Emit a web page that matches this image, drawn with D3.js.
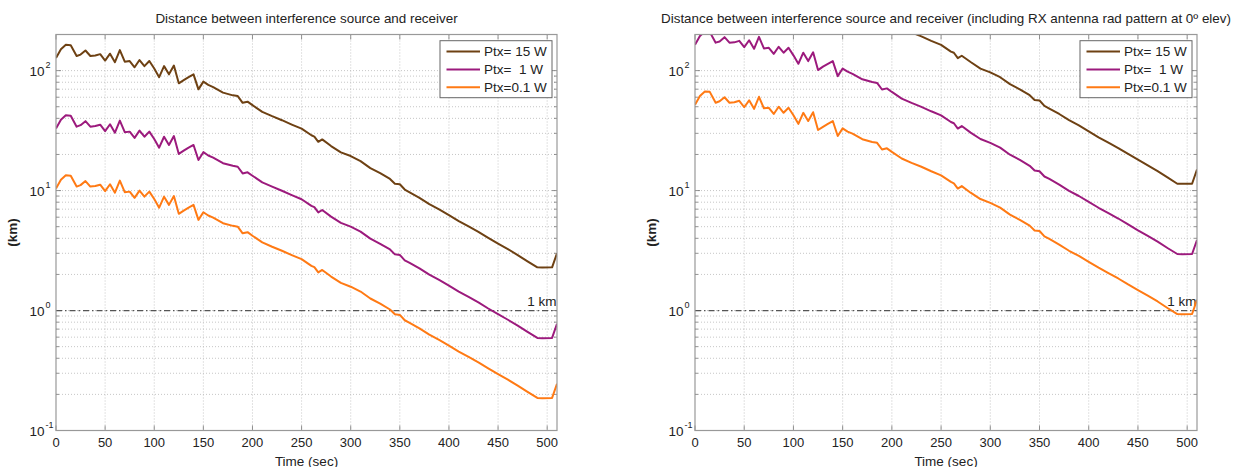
<!DOCTYPE html>
<html><head><meta charset="utf-8">
<script src="https://cdn.jsdelivr.net/npm/d3@7"></script>
<style>
body{margin:0;background:#fff;}
text{font-family:"Liberation Sans",Arial,Helvetica,sans-serif;fill:#222;}
</style>
</head><body>
<svg id="chart" width="1245" height="467"></svg>
<script>
const times = [0,5,10,15,21,25,30,35,40,45,50,55,60,65,70,75,80,85,90,95,100,105,110,115,120,125,130,135,140,145,150,155,160,170,180,185,190,195,200,210,220,230,240,250,260,263,267,271,280,290,300,310,320,330,340,345,350,355,360,370,380,390,400,410,420,430,440,450,460,470,480,490,495,505,510];

// Left panel (km)
const left15W = [127.4,150.7,164.2,162.9,132.3,136.0,147.0,132.3,133.5,137.2,121.3,138.4,117.6,148.2,118.8,120.1,106.6,122.5,109.0,120.1,104.1,88.2,109.0,93.1,110.3,78.4,83.3,88.2,93.1,69.8,80.9,76.0,72.9,65.5,62.2,61.3,53.9,55.1,51.5,45.3,41.7,38.6,35.5,32.8,28.9,28.2,25.5,26.7,23.5,20.8,19.4,17.6,15.4,14.0,12.5,11.4,11.3,10.2,9.68,8.70,7.72,6.98,6.25,5.57,5.02,4.53,4.04,3.61,3.25,2.90,2.57,2.29,2.28,2.29,3.0];
const left1W = [32.9,38.9,42.4,42.1,34.1,35.1,37.9,34.1,34.5,35.4,31.3,35.7,30.4,38.3,30.7,31.0,27.5,31.6,28.1,31.0,26.9,22.8,28.1,24.0,28.5,20.2,21.5,22.8,24.0,18.0,20.9,19.6,18.8,16.9,16.1,15.8,13.9,14.2,13.3,11.7,10.8,9.96,9.17,8.47,7.46,7.27,6.58,6.89,6.07,5.38,5.0,4.55,3.98,3.60,3.23,2.94,2.91,2.62,2.50,2.25,1.99,1.80,1.61,1.44,1.30,1.17,1.04,0.933,0.838,0.749,0.664,0.591,0.588,0.591,0.775];
const left01W = [10.4,12.3,13.4,13.3,10.8,11.1,12.0,10.8,10.9,11.2,9.9,11.3,9.6,12.1,9.7,9.8,8.7,10.0,8.9,9.8,8.5,7.2,8.9,7.6,9.0,6.4,6.8,7.2,7.6,5.7,6.6,6.2,5.95,5.35,5.08,5.0,4.4,4.5,4.2,3.7,3.4,3.15,2.9,2.68,2.36,2.30,2.08,2.18,1.92,1.70,1.58,1.44,1.26,1.14,1.02,0.93,0.92,0.83,0.79,0.71,0.63,0.57,0.51,0.455,0.41,0.37,0.33,0.295,0.265,0.237,0.21,0.187,0.186,0.187,0.245];

// Right panel (km), including RX antenna pattern
const right15W = [636,753,820,814,661,679,734,661,667,685,606,692,588,741,594,600,532,612,545,600,520,441,545,465,551,392,416,441,465,349,404,379,364,327,311,306,269,275,257,226,208,193,177,164,144,141,127,133,118,104,96.7,88.1,77.1,69.8,62.4,56.9,56.3,50.8,48.3,43.5,38.6,34.9,31.2,27.8,25.1,22.6,20.2,18.1,16.2,14.5,12.9,11.4,11.4,11.4,15.0];
const right1W = [164,194,212,210,171,175,190,171,172,177,157,179,152,191,153,155,138,158,141,155,134,114,141,120,142,101,108,114,120,90,104,98,94,84.6,80.3,79,69.6,71.1,66.4,58.5,53.8,49.8,45.8,42.4,37.3,36.4,32.9,34.5,30.4,26.9,25.0,22.8,19.9,18.0,16.1,14.7,14.5,13.1,12.5,11.2,9.96,9.01,8.06,7.19,6.48,5.85,5.22,4.66,4.19,3.75,3.32,2.96,2.94,2.96,3.87];
const right01W = [52,61.5,67,66.5,54,55.5,60,54,54.5,56,49.5,56.5,48,60.5,48.5,49,43.5,50,44.5,49,42.5,36,44.5,38,45,32,34,36,38,28.5,33,31,29.8,26.8,25.4,25,22,22.5,21,18.5,17,15.8,14.5,13.4,11.8,11.5,10.4,10.9,9.6,8.5,7.9,7.2,6.3,5.7,5.1,4.65,4.6,4.15,3.95,3.55,3.15,2.85,2.55,2.28,2.05,1.85,1.65,1.48,1.33,1.19,1.05,0.935,0.93,0.935,1.23];

const seriesNames = ["Ptx= 15 W","Ptx=  1 W","Ptx=0.1 W"];
const seriesColors = ["#6e4113","#9c1a7d","#ff7a14"];
const titles = ["Distance between interference source and receiver",
  "Distance between interference source and receiver (including RX antenna rad pattern at 0º elev)"];
const xTicks = [0,50,100,150,200,250,300,350,400,450,500];
const yDecades = [-1,0,1,2];
const thresholdKm = 1;
const thresholdLabel = "1 km";

const panels = [
  {x0:56, x1:557, title:titles[0], data:[left15W,left1W,left01W]},
  {x0:695, x1:1197, title:titles[1], data:[right15W,right1W,right01W]}
];
const yTop = 34.5, yBot = 430.5;
const svg = d3.select("#chart");

const minorVals = [];
for (let e=-1;e<=2;e++) for (let m=1;m<=9;m++){ const v=m*Math.pow(10,e); if(v>=0.1 && v<=200) minorVals.push(v); }
minorVals.push(200);

panels.forEach((p,pi)=>{
  const x = d3.scaleLinear().domain([0,510]).range([p.x0,p.x1]);
  const y = d3.scaleLog().domain([0.1,200]).range([yBot,yTop]);
  const g = svg.append("g");
  const clipId = "clip"+pi;
  svg.append("clipPath").attr("id",clipId).append("rect")
    .attr("x",p.x0).attr("y",yTop).attr("width",p.x1-p.x0).attr("height",yBot-yTop);

  // grid
  g.append("g").selectAll("line").data(minorVals.filter(v=>v>0.1 && v<200)).join("line")
    .attr("x1",p.x0).attr("x2",p.x1).attr("y1",d=>y(d)).attr("y2",d=>y(d))
    .attr("stroke","#b8b8b8").attr("stroke-width",0.8).attr("stroke-dasharray","1,2");
  g.append("g").selectAll("line").data(xTicks.filter(v=>v>0)).join("line")
    .attr("x1",d=>x(d)).attr("x2",d=>x(d)).attr("y1",yTop).attr("y2",yBot)
    .attr("stroke","#b8b8b8").attr("stroke-width",0.8).attr("stroke-dasharray","1,2");

  // ticks (inside)
  const tk = g.append("g").attr("stroke","#777").attr("stroke-width",0.8);
  xTicks.forEach(t=>{
    tk.append("line").attr("x1",x(t)).attr("x2",x(t)).attr("y1",yBot).attr("y2",yBot-5);
    tk.append("line").attr("x1",x(t)).attr("x2",x(t)).attr("y1",yTop).attr("y2",yTop+5);
  });
  minorVals.filter(v=>v<200).forEach(v=>{
    const major = yDecades.some(e=>Math.abs(Math.pow(10,e)-v)<1e-9);
    const L = major?5:3;
    tk.append("line").attr("x1",p.x0).attr("x2",p.x0+L).attr("y1",y(v)).attr("y2",y(v));
    tk.append("line").attr("x1",p.x1).attr("x2",p.x1-L).attr("y1",y(v)).attr("y2",y(v));
  });

  // threshold line
  g.append("line").attr("x1",p.x0).attr("x2",p.x1).attr("y1",y(thresholdKm)).attr("y2",y(thresholdKm))
    .attr("stroke","#555").attr("stroke-width",1.2).attr("stroke-dasharray","6,3,1.5,3");
  g.append("text").attr("x",p.x1-0.5).attr("y",y(thresholdKm)-4.5).attr("text-anchor","end")
    .attr("font-size",13.5).text(thresholdLabel);

  // lines
  const line = d3.line().x((d,i)=>x(times[i])).y(d=>y(d));
  const lg = g.append("g").attr("clip-path",`url(#${clipId})`);
  p.data.forEach((s,si)=>{
    lg.append("path").datum(s).attr("d",line).attr("fill","none")
      .attr("stroke",seriesColors[si]).attr("stroke-width",2).attr("stroke-linejoin","round");
  });

  // box
  g.append("rect").attr("x",p.x0).attr("y",yTop).attr("width",p.x1-p.x0).attr("height",yBot-yTop)
    .attr("fill","none").attr("stroke","#999").attr("stroke-width",1.2);

  // x tick labels
  g.append("g").selectAll("text").data(xTicks).join("text")
    .attr("x",d=>x(d)).attr("y",447).attr("text-anchor","middle").attr("font-size",13).text(d=>d);
  // y tick labels
  yDecades.forEach(e=>{
    const yy = y(Math.pow(10,e));
    g.append("text").attr("x",p.x0-11.5).attr("y",yy+5).attr("text-anchor","end").attr("font-size",13.5).text("10");
    g.append("text").attr("x",p.x0-10.5).attr("y",yy-3).attr("text-anchor","start").attr("font-size",9).text(e);
  });
  // axis labels
  g.append("text").attr("x",(p.x0+p.x1)/2).attr("y",465.5).attr("text-anchor","middle").attr("font-size",13.5).text("Time (sec)");
  g.append("text").attr("transform",`translate(${p.x0-39},${(yTop+yBot)/2}) rotate(-90)`)
    .attr("text-anchor","middle").attr("font-size",13.5).attr("font-weight","bold").text("(km)");
  // title
  g.append("text").attr("x",(p.x0+p.x1)/2).attr("y",23).attr("text-anchor","middle").attr("font-size",13.4).text(p.title);

  // legend
  const lx = p.x1-117, ly = 40.7;
  const leg = g.append("g");
  leg.append("rect").attr("x",lx).attr("y",ly).attr("width",112).attr("height",57)
    .attr("fill","#fff").attr("stroke","#666").attr("stroke-width",1);
  seriesNames.forEach((n,si)=>{
    const yy = ly + 10.8 + si*17.9;
    leg.append("line").attr("x1",lx+6.5).attr("x2",lx+40).attr("y1",yy).attr("y2",yy)
      .attr("stroke",seriesColors[si]).attr("stroke-width",2);
    leg.append("text").attr("x",lx+44).attr("y",yy+4.8).attr("font-size",13.5)
      .attr("xml:space","preserve").style("white-space","pre").text(n);
  });
});
</script>
</body></html>
